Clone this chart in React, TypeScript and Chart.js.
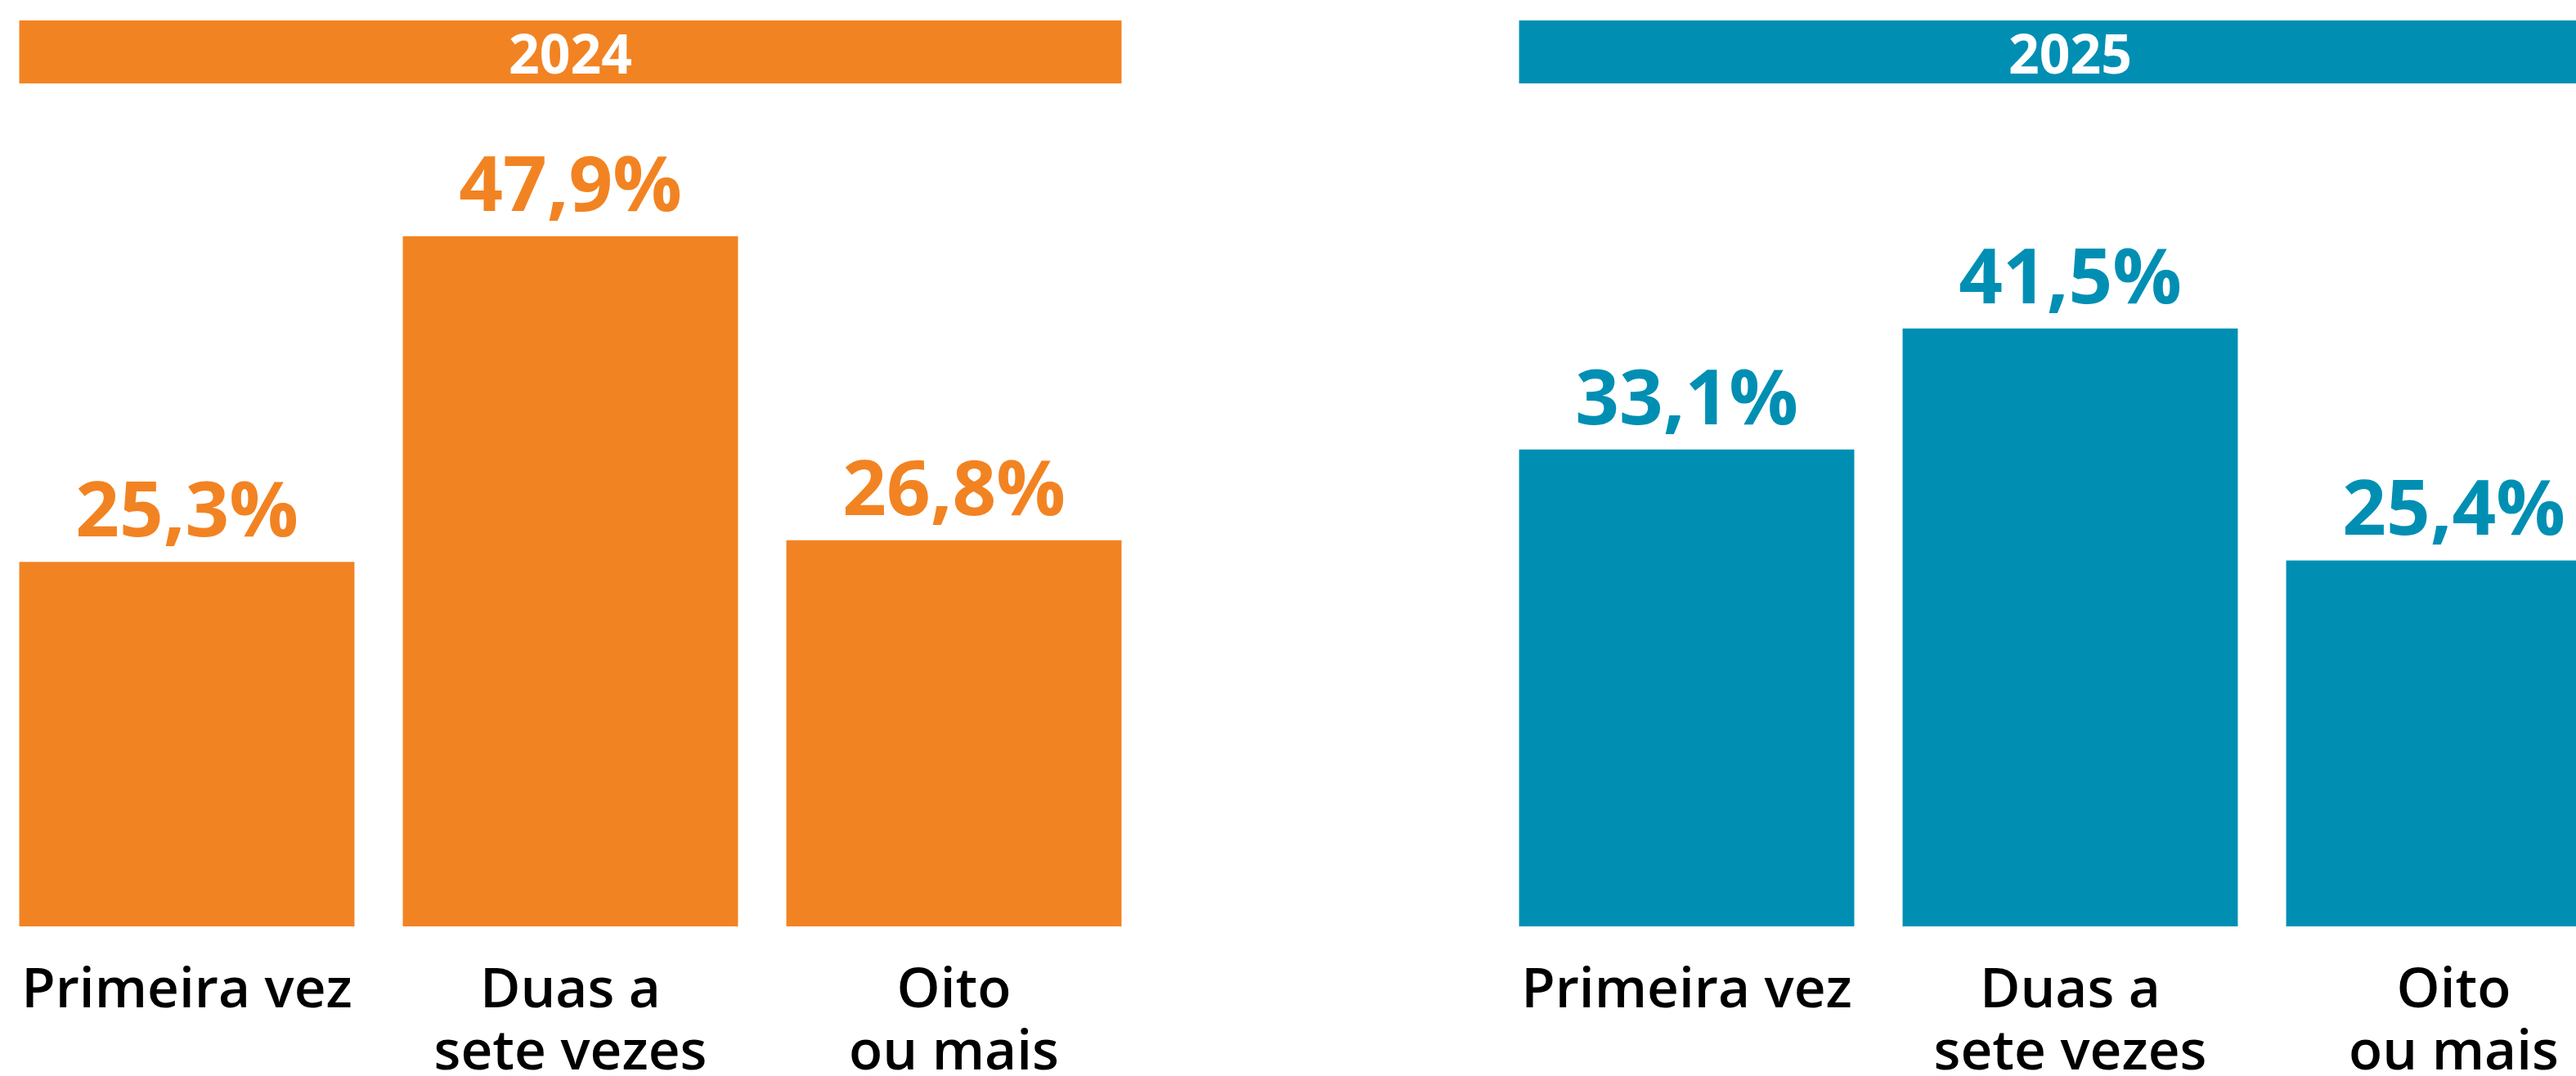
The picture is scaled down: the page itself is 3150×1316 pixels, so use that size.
import React, { useEffect, useRef } from "react";
import { Chart, registerables } from "chart.js";

Chart.register(...registerables);

// ---- data ----
const categories: string[][] = [["Primeira vez"], ["Duas a", "sete vezes"], ["Oito", "ou mais"]];
const years = ["2024", "2025"];
const values2024 = [25.3, 47.9, 26.8];
const values2025 = [33.1, 41.5, 25.4];
const yMin = 0;
const yMax = 50;

const ORANGE = "#F28322";
const BLUE = "#008FB3";

const panelPlugin = {
  id: "panelDecor",
  afterDatasetsDraw(chart: any, _args: any, opts: any) {
    const ctx = chart.ctx as CanvasRenderingContext2D;
    const meta = chart.getDatasetMeta(0);
    const ds = chart.data.datasets[0];
    ctx.save();
    ctx.fillStyle = opts.color;
    ctx.textAlign = "center";
    ctx.textBaseline = "alphabetic";
    ctx.font = "700 94px 'Open Sans'";
    meta.data.forEach((bar: any, i: number) => {
      const v = ds.data[i] as number;
      ctx.fillText(v.toFixed(1).replace(".", ",") + "%", bar.x, bar.y - 31);
    });
    const first = meta.data[0];
    const last = meta.data[meta.data.length - 1];
    const left = first.x - first.width / 2;
    const right = last.x + last.width / 2;
    ctx.fillRect(left, 25, right - left, 77);
    ctx.fillStyle = "#ffffff";
    ctx.font = "700 66px 'Open Sans'";
    ctx.fillText(opts.title, (left + right) / 2, 90);
    ctx.restore();
  },
};

function Panel({ values, color, title, left }: { values: number[]; color: string; title: string; left: number }) {
  const ref = useRef<HTMLCanvasElement | null>(null);
  useEffect(() => {
    let chart: Chart | null = null;
    let cancelled = false;
    const make = () => {
      if (cancelled || !ref.current) return;
      chart = new Chart(ref.current, {
        type: "bar",
        data: {
          labels: categories,
          datasets: [
            {
              data: values,
              backgroundColor: color,
              borderWidth: 0,
              barPercentage: 0.874,
              categoryPercentage: 1,
            },
          ],
        },
        options: {
          animation: false,
          responsive: false,
          maintainAspectRatio: false,
          layout: { padding: { top: 252, left: 0, right: 0, bottom: 0 } },
          plugins: {
            legend: { display: false },
            tooltip: { enabled: false },
            panelDecor: { color, title },
          } as any,
          scales: {
            x: {
              grid: { display: false, drawTicks: true, tickLength: 18 },
              border: { display: false },
              ticks: {
                color: "#000000",
                padding: 24,
                maxRotation: 0,
                autoSkip: false,
                font: { family: "'Open Sans'", size: 67.5, weight: 600 as any, lineHeight: 1.126 },
              },
            },
            y: { display: false, min: yMin, max: yMax },
          },
        },
        plugins: [panelPlugin],
      });
    };
    const fonts = (document as any).fonts;
    if (fonts && fonts.load) {
      Promise.all([
        fonts.load("700 94px 'Open Sans'"),
        fonts.load("600 66px 'Open Sans'"),
      ]).then(make, make);
    } else make();
    return () => {
      cancelled = true;
      if (chart) chart.destroy();
    };
  }, [values, color, title]);
  return (
    <canvas
      ref={ref}
      width={1407}
      height={1351}
      style={{ position: "absolute", left, top: 0, width: 1407, height: 1351 }}
    />
  );
}

export default function App() {
  return (
    <div
      style={{
        position: "fixed",
        left: 0,
        top: 0,
        width: 3150,
        height: 1316,
        overflow: "hidden",
        background: "#ffffff",
      }}
    >
      <Panel values={values2024} color={ORANGE} title={years[0]} left={-6.5} />
      <Panel values={values2025} color={BLUE} title={years[1]} left={1827.5} />
    </div>
  );
}
